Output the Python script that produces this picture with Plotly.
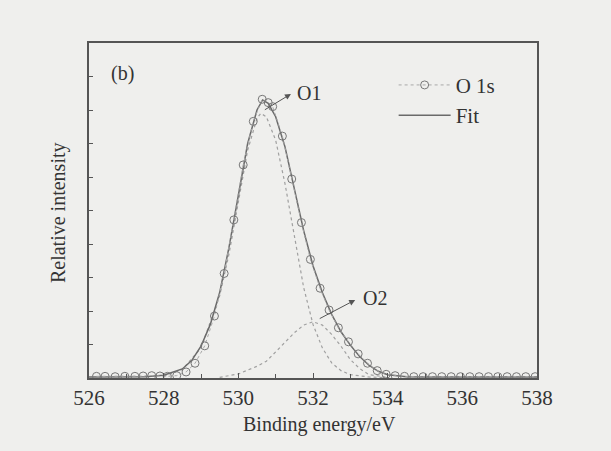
import plotly.graph_objects as go

# Experimental O 1s data (binding energy eV, relative intensity)
o1s_x = [526.2, 526.43, 526.7, 526.96, 527.23, 527.45, 527.68, 527.9, 528.1, 528.35,
         528.6, 528.84, 529.1, 529.36, 529.62, 529.88, 530.13, 530.4, 530.64, 530.8,
         530.92, 531.18, 531.43, 531.69, 531.93, 532.19, 532.43, 532.68, 532.95, 533.21,
         533.46, 533.72, 533.96, 534.2, 534.45, 534.7, 534.95, 535.2, 535.45, 535.7,
         535.95, 536.2, 536.45, 536.7, 536.95, 537.2, 537.45, 537.7, 537.95]
o1s_y = [0.05, 0.05, 0.04, 0.05, 0.05, 0.06, 0.07, 0.06, 0.05, 0.07,
         0.18, 0.44, 0.96, 1.85, 3.12, 4.72, 6.36, 7.66, 8.32, 8.22,
         8.1, 7.22, 5.94, 4.64, 3.54, 2.68, 2.03, 1.5, 1.08, 0.72,
         0.44, 0.22, 0.11, 0.07, 0.05, 0.04, 0.04, 0.04, 0.04, 0.04,
         0.04, 0.04, 0.04, 0.04, 0.04, 0.04, 0.04, 0.04, 0.04]

# Fit envelope
fit_x = [526.0, 527.0, 527.5, 528.0, 528.5, 528.75, 529.0, 529.25, 529.5, 529.75,
         530.0, 530.25, 530.5, 530.65, 530.8, 531.0, 531.25, 531.5, 531.75, 532.0,
         532.25, 532.5, 532.75, 533.0, 533.25, 533.5, 533.75, 534.0, 534.5, 535.0, 538.0]
fit_y = [0.03, 0.03, 0.04, 0.08, 0.27, 0.52, 0.95, 1.6, 2.55, 3.9,
         5.5, 7.0, 8.0, 8.3, 8.2, 7.8, 6.9, 5.65, 4.4, 3.35,
         2.55, 1.9, 1.38, 0.98, 0.64, 0.38, 0.2, 0.1, 0.04, 0.03, 0.03]

# O1 component
o1_x = [528.0, 528.5, 529.0, 529.5, 529.75, 530.0, 530.25, 530.5, 530.6, 530.75,
        531.0, 531.25, 531.5, 531.75, 532.0, 532.25, 532.5, 532.75, 533.0, 533.5, 534.0]
o1_y = [0.05, 0.25, 0.9, 2.45, 3.7, 5.3, 6.8, 7.75, 7.9, 7.8,
        7.1, 5.8, 4.2, 2.7, 1.6, 0.9, 0.45, 0.22, 0.1, 0.03, 0.01]

# O2 component
o2_x = [529.5, 530.0, 530.5, 530.75, 531.0, 531.25, 531.5, 531.75, 532.0, 532.25,
        532.5, 532.75, 533.0, 533.25, 533.5, 534.0]
o2_y = [0.02, 0.12, 0.35, 0.5, 0.78, 1.05, 1.35, 1.58, 1.68, 1.58,
        1.3, 0.95, 0.55, 0.28, 0.1, 0.02]

x_ticks = [526, 528, 530, 532, 534, 536, 538]

BG = "#efefed"
TXT = "#333333"
FONT = "Liberation Serif"

fig = go.Figure()
fig.add_trace(go.Scatter(x=o1_x, y=o1_y, mode="lines", showlegend=False,
                         line=dict(color="#a0a0a0", width=1.2, dash="dot")))
fig.add_trace(go.Scatter(x=o2_x, y=o2_y, mode="lines", showlegend=False,
                         line=dict(color="#a0a0a0", width=1.2, dash="dot")))
fig.add_trace(go.Scatter(x=fit_x, y=fit_y, mode="lines", name="Fit",
                         line=dict(color="#6a6a6a", width=1.5)))
fig.add_trace(go.Scatter(x=o1s_x, y=o1s_y, mode="lines+markers", name="O 1s",
                         line=dict(color="#a8a8a8", width=1, dash="dot"),
                         marker=dict(symbol="circle-open", size=8, color="#777777",
                                     line=dict(width=1, color="#777777"))))

axis_common = dict(showline=True, linecolor="#555555", linewidth=1.5, mirror=True,
                   showgrid=False, zeroline=False, ticks="inside", tickcolor="#555555")

fig.update_xaxes(range=[526, 538], tickvals=x_ticks, ticklen=5, tickwidth=1,
                 minor=dict(dtick=1, ticks="inside", ticklen=4, tickcolor="#555555"),
                 tickfont=dict(family=FONT, size=21, color=TXT), **axis_common)
fig.update_yaxes(range=[0, 10], dtick=1, ticklen=4, tickwidth=1, showticklabels=False,
                 **axis_common)

fig.add_annotation(text="Binding energy/eV", xref="paper", yref="paper", x=0.515, y=-0.14,
                   xanchor="center", yanchor="middle", showarrow=False,
                   font=dict(family=FONT, size=20, color=TXT))
fig.add_annotation(text="Relative intensity", xref="paper", yref="paper", x=-0.0695, y=0.495,
                   xanchor="center", yanchor="middle", textangle=-90, showarrow=False,
                   font=dict(family=FONT, size=20, color=TXT))
fig.add_annotation(text="(b)", xref="x", yref="y", x=526.9, y=9.1, showarrow=False,
                   xanchor="center", yanchor="middle", font=dict(family=FONT, size=20, color=TXT))
fig.add_annotation(text="O1", xref="x", yref="y", x=531.89, y=8.51, showarrow=False,
                   xanchor="center", yanchor="middle", font=dict(family=FONT, size=20, color=TXT))
fig.add_annotation(text="O2", xref="x", yref="y", x=533.66, y=2.39, showarrow=False,
                   xanchor="center", yanchor="middle", font=dict(family=FONT, size=20, color=TXT))
# arrows (head near labels)
fig.add_annotation(text="", x=531.41, y=8.48, ax=530.67, ay=7.98, xref="x", yref="y",
                   axref="x", ayref="y", showarrow=True, arrowhead=2, arrowsize=1.2,
                   arrowwidth=1, arrowcolor="#555555")
fig.add_annotation(text="", x=533.13, y=2.33, ax=532.14, ay=1.75, xref="x", yref="y",
                   axref="x", ayref="y", showarrow=True, arrowhead=2, arrowsize=1.2,
                   arrowwidth=1, arrowcolor="#555555")

fig.update_layout(
    width=611, height=451,
    margin=dict(l=89, r=74, t=43, b=73),
    paper_bgcolor=BG, plot_bgcolor=BG,
    font=dict(family=FONT, color=TXT),
    legend=dict(x=0.68, y=0.935, xanchor="left", yanchor="top", bgcolor="rgba(0,0,0,0)",
                font=dict(family=FONT, size=21, color=TXT), traceorder="reversed",
                itemwidth=52),
)

fig.write_html("out.html", config={"displayModeBar": False},
               post_script="document.body.style.margin='0';document.body.style.background='#efefed';")
